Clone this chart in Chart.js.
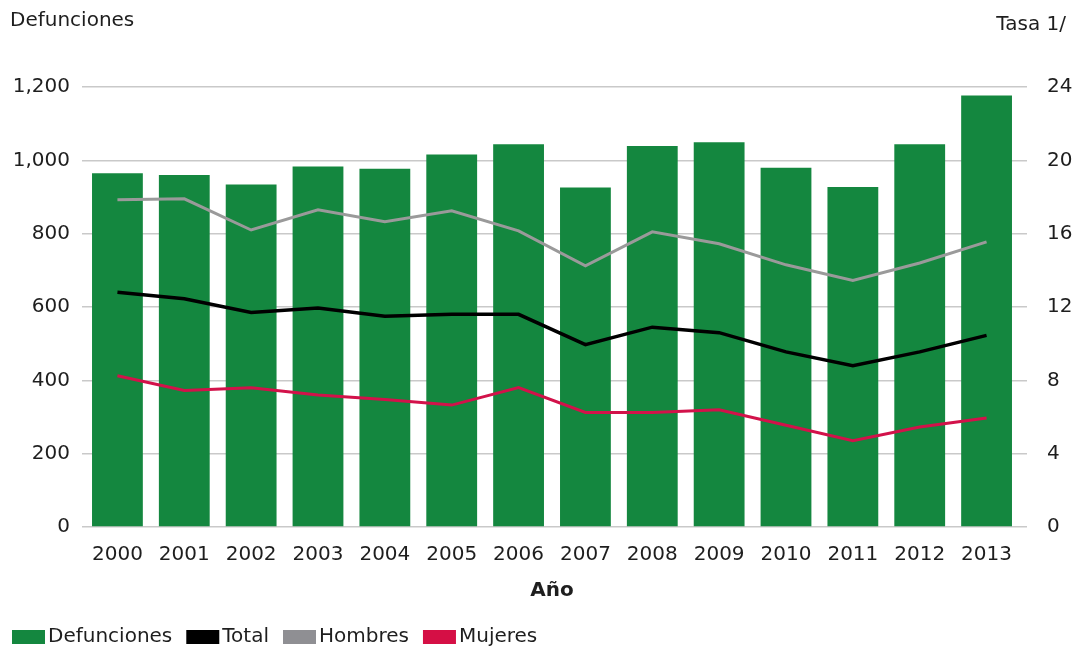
<!DOCTYPE html>
<html lang="es">
<head>
<meta charset="utf-8">
<title>Defunciones y tasa, 2000-2013</title>
<script src="https://cdn.jsdelivr.net/npm/chart.js@4.4.1/dist/chart.umd.min.js"></script>
<style>
    html, body { margin: 0; padding: 0; background: #fff; }
    .chart-wrap { position: relative; width: 1081px; height: 651px; }
</style>
</head>
<body>
<div class="chart-wrap">
    <canvas id="defuncionesChart"></canvas>
</div>
<script>
// Datos
const years = ['2000', '2001', '2002', '2003', '2004', '2005', '2006', '2007', '2008', '2009', '2010', '2011', '2012', '2013'];
const defunciones = [965, 960, 934, 983, 977, 1016, 1044, 926, 1039, 1049, 980, 927, 1044, 1177];
const tasaTotal = [12.8, 12.45, 11.7, 11.95, 11.5, 11.6, 11.6, 9.95, 10.9, 10.6, 9.55, 8.8, 9.55, 10.45];
const tasaHombres = [17.85, 17.9, 16.2, 17.3, 16.65, 17.25, 16.15, 14.25, 16.1, 15.45, 14.3, 13.45, 14.4, 15.55];
const tasaMujeres = [8.25, 7.45, 7.6, 7.2, 6.95, 6.65, 7.6, 6.25, 6.25, 6.4, 5.55, 4.7, 5.45, 5.95];

// Ticks de los ejes
const leftTicks = [0, 200, 400, 600, 800, 1000, 1200];
const rightTicks = [0, 4, 8, 12, 16, 20, 24];

const FONT = 'DejaVu Sans';
const TEXT = '#1e1e1e';
const GRID = '#c9c9c9';

// Títulos de los ejes verticales, arriba de cada eje
const axisTitles = {
    id: 'axisTitles',
    afterDraw(chart) {
        const { ctx } = chart;
        ctx.save();
        ctx.font = `20px "${FONT}"`;
        ctx.fillStyle = TEXT;
        ctx.textBaseline = 'middle';
        ctx.textAlign = 'left';
        ctx.fillText('Defunciones', 10, 21);
        ctx.textAlign = 'right';
        ctx.fillText('Tasa 1/', 1066, 25);
        ctx.restore();
    }
};

// Leyenda abajo a la izquierda, cuadros pegados al texto
const bottomLegend = {
    id: 'bottomLegend',
    afterDraw(chart) {
        const { ctx } = chart;
        const y = 637;
        let x = 12;
        ctx.save();
        ctx.font = `20px "${FONT}"`;
        ctx.textBaseline = 'middle';
        ctx.textAlign = 'left';
        chart.data.datasets.forEach(ds => {
            ctx.fillStyle = ds.backgroundColor;
            ctx.fillRect(x, y - 7, 33, 14);
            x += 36;
            ctx.fillStyle = TEXT;
            ctx.fillText(ds.label, x, y);
            x += ctx.measureText(ds.label).width + 14;
        });
        ctx.restore();
    }
};

document.addEventListener('DOMContentLoaded', function() {
    createChart();
});

function createChart() {
    const ctx = document.getElementById('defuncionesChart');
    if (!ctx) return;

    Chart.defaults.font.family = FONT;
    Chart.defaults.color = TEXT;

    new Chart(ctx, {
        type: 'bar',
        data: {
            labels: years,
            datasets: [
                {
                    label: 'Defunciones',
                    data: defunciones,
                    backgroundColor: '#14873f',
                    barPercentage: 0.76,
                    categoryPercentage: 1,
                    yAxisID: 'y',
                    order: 10
                },
                {
                    type: 'line',
                    label: 'Total',
                    data: tasaTotal,
                    borderColor: '#000',
                    backgroundColor: '#000',
                    borderWidth: 3.5,
                    pointRadius: 0,
                    tension: 0,
                    yAxisID: 'y1',
                    order: 1
                },
                {
                    type: 'line',
                    label: 'Hombres',
                    data: tasaHombres,
                    borderColor: '#9a9a9a',
                    backgroundColor: '#8f8f93',
                    borderWidth: 3,
                    pointRadius: 0,
                    tension: 0,
                    yAxisID: 'y1',
                    order: 2
                },
                {
                    type: 'line',
                    label: 'Mujeres',
                    data: tasaMujeres,
                    borderColor: '#d2124a',
                    backgroundColor: '#d50f45',
                    borderWidth: 3,
                    pointRadius: 0,
                    tension: 0,
                    yAxisID: 'y1',
                    order: 3
                }
            ]
        },
        options: {
            responsive: true,
            maintainAspectRatio: false,
            animation: false,
            layout: { padding: { top: 87, left: 0, right: 0, bottom: 48 } },
            plugins: {
                legend: { display: false },
                tooltip: { enabled: false }
            },
            scales: {
                x: {
                    afterFit: scale => { scale.height = 76; },
                    grid: { display: false, drawTicks: false },
                    border: { display: false },
                    ticks: { padding: 16, font: { size: 20 }, color: TEXT, maxRotation: 0 },
                    title: {
                        display: true,
                        text: 'Año',
                        font: { size: 20, weight: 'bold' },
                        color: TEXT,
                        padding: { top: 10, bottom: 0 }
                    }
                },
                y: {
                    position: 'left',
                    min: leftTicks[0],
                    max: leftTicks[leftTicks.length - 1],
                    afterBuildTicks: scale => { scale.ticks = leftTicks.map(v => ({ value: v })); },
                    afterFit: scale => { scale.width = 84; },
                    grid: { color: GRID, lineWidth: 1.5, tickLength: 2 },
                    border: { display: false },
                    ticks: {
                        padding: 12,
                        font: { size: 20 },
                        color: TEXT,
                        callback: v => v.toLocaleString('en-US')
                    }
                },
                y1: {
                    position: 'right',
                    min: rightTicks[0],
                    max: rightTicks[rightTicks.length - 1],
                    afterBuildTicks: scale => { scale.ticks = rightTicks.map(v => ({ value: v })); },
                    afterFit: scale => { scale.width = 61; },
                    grid: { drawOnChartArea: false, color: GRID, lineWidth: 1.5, tickLength: 7 },
                    border: { display: false },
                    ticks: { padding: 20, font: { size: 20 }, color: TEXT }
                }
            }
        },
        plugins: [axisTitles, bottomLegend]
    });
}
</script>
</body>
</html>
